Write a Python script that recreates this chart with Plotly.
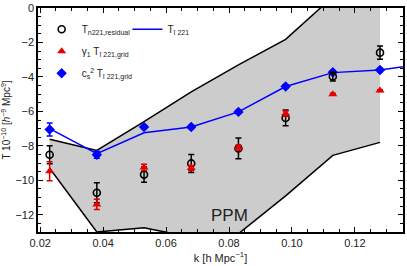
import plotly.graph_objects as go

k = [0.023, 0.038, 0.053, 0.068, 0.083, 0.098, 0.113, 0.128]

# PPM band boundaries
ppm_upper = [-7.62, -8.27, -6.59, -4.87, -3.30, -1.82, 0.65, 1.60]
ppm_lower = [-9.30, -13.00, -12.76, -13.30, -13.10, -10.90, -8.55, -7.80]

# T_n221,residual
t_res = [-8.52, -10.72, -9.67, -9.02, -8.15, -6.38, -3.98, -2.59]
t_res_err = [0.52, 0.58, 0.44, 0.52, 0.60, 0.46, 0.25, 0.38]

# gamma1 T_grid
t_gam = [-9.48, -11.40, -9.25, -9.29, -8.10, -6.13, -5.00, -4.79]
t_gam_err = [0.55, 0.30, 0.18, 0.15, 0.15, 0.15, 0.05, 0.05]

# cs^2 T_grid
t_cs = [-7.05, -8.52, -6.91, -6.91, -6.03, -4.56, -3.73, -3.60]
t_cs_err = [0.38, 0.20, 0.10, 0.10, 0.10, 0.10, 0.10, 0.10]

# T_i221 line
k_line = [0.023, 0.038, 0.053, 0.068, 0.083, 0.098, 0.113, 0.128, 0.143]
t_line = [-7.00, -8.45, -7.24, -6.91, -6.03, -4.56, -3.75, -3.60, -3.20]

x_ticks = [0.02, 0.04, 0.06, 0.08, 0.10, 0.12]
x_tick_text = ["0.02", "0.04", "0.06", "0.08", "0.10", "0.12"]
y_ticks = [-12, -10, -8, -6, -4, -2, 0]
y_tick_text = ["\u221212", "\u221210", "\u22128", "\u22126", "\u22124", "\u22122", "0"]

FONT = "Arial, Liberation Sans, sans-serif"

fig = go.Figure()

fig.add_trace(go.Scatter(x=k, y=ppm_lower, mode="lines",
                         line=dict(color="black", width=1.5),
                         showlegend=False, hoverinfo="skip"))
fig.add_trace(go.Scatter(x=k, y=ppm_upper, mode="lines",
                         line=dict(color="black", width=1.5),
                         fill="tonexty", fillcolor="rgb(204,204,204)",
                         showlegend=False, hoverinfo="skip"))

fig.add_trace(go.Scatter(x=k_line, y=t_line, mode="lines",
                         line=dict(color="rgb(0,0,255)", width=1.5),
                         name="T<sub>\u012b 221</sub>", legend="legend2"))

fig.add_trace(go.Scatter(x=k, y=t_cs, mode="markers",
                         marker=dict(symbol="diamond", size=8, color="rgb(0,0,255)"),
                         error_y=dict(type="data", array=t_cs_err, color="rgb(0,0,255)",
                                      thickness=1.5, width=3),
                         name="c<sub>s</sub><sup>2</sup> T<sub>\u012b 221,grid</sub>",
                         legendgroup="c", legendrank=3))

fig.add_trace(go.Scatter(x=k, y=t_res, mode="markers",
                         marker=dict(symbol="circle-open", size=7, color="black",
                                     line=dict(width=1.6)),
                         error_y=dict(type="data", array=t_res_err, color="black",
                                      thickness=1.5, width=3),
                         name="T<sub>n221,residual</sub>",
                         legendgroup="a", legendrank=1))

fig.add_trace(go.Scatter(x=k, y=t_gam, mode="markers",
                         marker=dict(symbol="triangle-up", size=8, color="rgb(230,0,0)",
                                     line=dict(width=0)),
                         error_y=dict(type="data", array=t_gam_err, color="rgb(210,0,0)",
                                      thickness=1.5, width=3),
                         name="\u03b3<sub>1</sub> T<sub>\u012b 221,grid</sub>",
                         legendgroup="b", legendrank=2))

fig.add_annotation(x=0.08, y=-12.06, text="PPM", showarrow=False,
                   font=dict(size=17, color="#222", family=FONT))

axis_common = dict(showline=True, linecolor="black", linewidth=1.5, mirror="allticks",
                   ticks="inside", ticklen=5, tickwidth=1, tickcolor="black",
                   showgrid=False, zeroline=False, ticklabeloverflow="allow",
                   tickfont=dict(size=11, color="#222", family=FONT))

fig.update_xaxes(range=[0.0193, 0.1353], tickvals=x_ticks, ticktext=x_tick_text,
                 minor=dict(dtick=0.005, ticks="inside", ticklen=3, tickcolor="black",
                            showgrid=False),
                 title=dict(text="k [h Mpc<sup>\u22121</sup>]", standoff=6,
                            font=dict(size=11, color="#222", family=FONT)),
                 **axis_common)
fig.update_yaxes(range=[-13, 0], tickvals=y_ticks, ticktext=y_tick_text,
                 minor=dict(dtick=0.5, ticks="inside", ticklen=3, tickcolor="black",
                            showgrid=False),
                 title=dict(text="T 10<sup>\u221210</sup> [<i>h</i><sup>\u22129</sup> Mpc<sup>9</sup>]",
                            standoff=3, font=dict(size=10, color="#222", family=FONT)),
                 **axis_common)

fig.update_layout(
    width=407, height=266,
    margin=dict(l=38, r=2, t=6, b=34),
    paper_bgcolor="white", plot_bgcolor="white",
    font=dict(family=FONT, size=11, color="#222"),
    legend=dict(x=0.01, y=0.97, xanchor="left", yanchor="top",
                bgcolor="rgba(0,0,0,0)", tracegroupgap=3,
                font=dict(size=10, family=FONT)),
    legend2=dict(x=0.245, y=0.97, xanchor="left", yanchor="top",
                 bgcolor="rgba(0,0,0,0)",
                 font=dict(size=10, family=FONT)),
)

fig.write_html("out.html", config={"displayModeBar": False},
               post_script="document.body.style.margin='0';document.body.style.padding='0';")
